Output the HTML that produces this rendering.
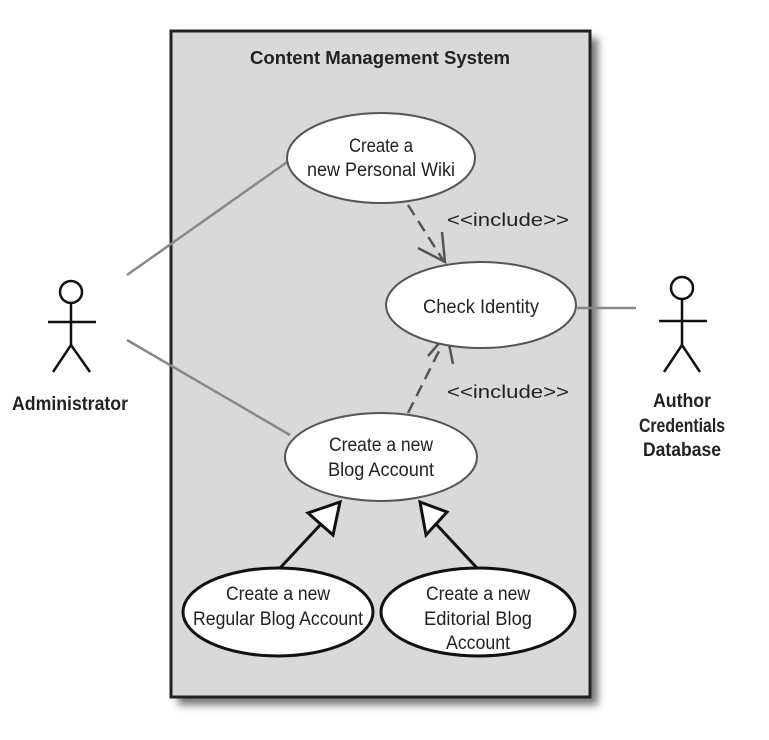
<!DOCTYPE html>
<html><head><style>
html,body{margin:0;padding:0;background:#fff;}
svg{display:block;}
text{font-family:"Liberation Sans",sans-serif;fill:#222;}
</style></head><body>
<svg width="769" height="740" viewBox="0 0 769 740" xmlns="http://www.w3.org/2000/svg">
<defs>
<filter id="sh" x="-10%" y="-10%" width="130%" height="130%"><feGaussianBlur stdDeviation="4"/></filter>
</defs>
<rect x="178" y="38" width="420" height="667" fill="#777" filter="url(#sh)"/>
<rect x="171" y="31" width="419" height="666" fill="#d9d9d9" stroke="#222" stroke-width="3"/>
<text x="380" y="64" font-size="18" font-weight="bold" text-anchor="middle" textLength="260" lengthAdjust="spacingAndGlyphs">Content Management System</text>

<g stroke="#888" stroke-width="2.5" fill="none">
<line x1="127" y1="275" x2="290" y2="160"/>
<line x1="127" y1="340" x2="290" y2="435"/>
<line x1="577" y1="308" x2="636" y2="308"/>
</g>

<g stroke="#555" stroke-width="2.5" fill="none">
<line x1="408" y1="205" x2="443" y2="260" stroke-dasharray="12,7"/>
<polyline points="418,248 445,262 442,232"/>
<line x1="408" y1="413" x2="446" y2="337" stroke-dasharray="12,7"/>
<polyline points="428,356 447,334 453,364"/>
</g>
<text x="447" y="226" font-size="18" textLength="122" lengthAdjust="spacingAndGlyphs">&lt;&lt;include&gt;&gt;</text>
<text x="447" y="398" font-size="18" textLength="122" lengthAdjust="spacingAndGlyphs">&lt;&lt;include&gt;&gt;</text>

<g stroke="#111" stroke-width="3" fill="#fff" stroke-linejoin="miter">
<line x1="280" y1="568" x2="322" y2="523"/>
<line x1="477" y1="568" x2="436" y2="524"/>
<polygon points="340,502 308,513 333,535"/>
<polygon points="420,502 447,512 426,535"/>
</g>

<g fill="#fff" stroke="#555" stroke-width="2">
<ellipse cx="381" cy="158" rx="94" ry="45"/>
<ellipse cx="481" cy="305" rx="95" ry="43"/>
<ellipse cx="381" cy="457" rx="96" ry="44"/>
</g>
<g fill="#fff" stroke="#111" stroke-width="3">
<ellipse cx="278" cy="612" rx="95" ry="44"/>
<ellipse cx="478" cy="612" rx="97" ry="44"/>
</g>
<g font-size="19" text-anchor="middle">
<text x="381" y="152" textLength="64" lengthAdjust="spacingAndGlyphs">Create a</text>
<text x="381" y="176" textLength="148" lengthAdjust="spacingAndGlyphs">new Personal Wiki</text>
<text x="481" y="313" textLength="116" lengthAdjust="spacingAndGlyphs">Check Identity</text>
<text x="381" y="451" textLength="104" lengthAdjust="spacingAndGlyphs">Create a new</text>
<text x="381" y="476" textLength="106" lengthAdjust="spacingAndGlyphs">Blog Account</text>
<text x="278" y="600" textLength="104" lengthAdjust="spacingAndGlyphs">Create a new</text>
<text x="278" y="625" textLength="170" lengthAdjust="spacingAndGlyphs">Regular Blog Account</text>
<text x="478" y="600" textLength="104" lengthAdjust="spacingAndGlyphs">Create a new</text>
<text x="478" y="625" textLength="108" lengthAdjust="spacingAndGlyphs">Editorial Blog</text>
<text x="478" y="649" textLength="64" lengthAdjust="spacingAndGlyphs">Account</text>
</g>

<g stroke="#111" stroke-width="2.5" fill="none">
<circle cx="71" cy="292" r="11"/>
<line x1="71" y1="303" x2="71" y2="345"/>
<line x1="48" y1="322" x2="96" y2="322"/>
<polyline points="53,372 71,345 90,372"/>
<circle cx="682" cy="288" r="11"/>
<line x1="682" y1="299" x2="682" y2="345"/>
<line x1="659" y1="321" x2="707" y2="321"/>
<polyline points="664,372 682,345 700,372"/>
</g>
<g font-size="19" font-weight="bold" text-anchor="middle">
<text x="70" y="410" textLength="116" lengthAdjust="spacingAndGlyphs">Administrator</text>
<text x="682" y="407" textLength="58" lengthAdjust="spacingAndGlyphs">Author</text>
<text x="682" y="432" textLength="86" lengthAdjust="spacingAndGlyphs">Credentials</text>
<text x="682" y="456" textLength="78" lengthAdjust="spacingAndGlyphs">Database</text>
</g>
</svg>
</body></html>
